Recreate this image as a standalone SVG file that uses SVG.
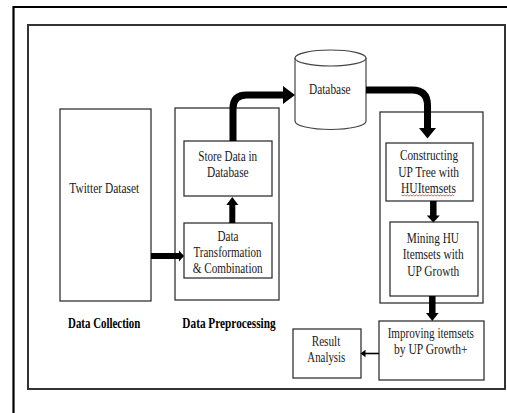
<svg xmlns="http://www.w3.org/2000/svg" width="507" height="413" viewBox="0 0 507 413">
  <style>
    .box { fill: #ffffff; stroke: #333333; stroke-width: 1.3; }
    .t { font-family: "Liberation Serif", "Times New Roman", serif; font-size: 14.5px; fill: #1a1a1a; text-anchor: middle; }
    .b { font-weight: bold; fill: #000000; }
    .shaft { fill: none; stroke: #000000; stroke-linecap: butt; stroke-linejoin: round; }
    .head { fill: #000000; }
  </style>

  <rect width="507" height="413" fill="#ffffff"/>

  <!-- outer page frame (open on the right and bottom) -->
  <path d="M13.5,413 V7 H507" fill="none" stroke="#000000" stroke-width="2.2"/>

  <!-- inner diagram frame -->
  <rect x="28" y="25" width="477" height="364" fill="#ffffff" stroke="#333333" stroke-width="2"/>

  <!-- stage containers -->
  <g id="data-collection">
    <rect class="box" x="60" y="109" width="91" height="192"/>
    <text class="t" x="104.2" y="193" textLength="70" lengthAdjust="spacingAndGlyphs">Twitter Dataset</text>
    <text class="t b" x="104.2" y="328" textLength="72.3" lengthAdjust="spacingAndGlyphs">Data Collection</text>
  </g>

  <g id="data-preprocessing">
    <rect class="box" x="175" y="108" width="104" height="192"/>
    <text class="t b" x="229" y="328" textLength="93.3" lengthAdjust="spacingAndGlyphs">Data Preprocessing</text>
  </g>

  <g id="store-data">
    <rect class="box" x="184" y="141" width="88" height="55"/>
    <text class="t" x="227.7" y="160.5" textLength="59" lengthAdjust="spacingAndGlyphs">Store Data in</text>
    <text class="t" x="227.8" y="177" textLength="41.7" lengthAdjust="spacingAndGlyphs">Database</text>
  </g>

  <g id="data-transformation">
    <rect class="box" x="184" y="223" width="88" height="55"/>
    <text class="t" x="228" y="240.5" textLength="21" lengthAdjust="spacingAndGlyphs">Data</text>
    <text class="t" x="227.5" y="257" textLength="68" lengthAdjust="spacingAndGlyphs">Transformation</text>
    <text class="t" x="227.7" y="272.5" textLength="70" lengthAdjust="spacingAndGlyphs">&amp; Combination</text>
  </g>

  <g id="database">
    <path d="M295,58 V121 A35.5,8.5 0 0 0 366,121 V58" fill="#ffffff" stroke="#444444" stroke-width="1.2"/>
    <ellipse cx="330.5" cy="58" rx="35.5" ry="8" fill="#ffffff" stroke="#444444" stroke-width="1.2"/>
    <text class="t" x="329.8" y="94" textLength="41.7" lengthAdjust="spacingAndGlyphs">Database</text>
  </g>

  <g id="mining-stage">
    <rect class="box" x="380" y="112" width="103" height="191"/>
  </g>

  <g id="constructing-up-tree">
    <rect class="box" x="386" y="143" width="87" height="58"/>
    <text class="t" x="429" y="160" textLength="58" lengthAdjust="spacingAndGlyphs">Constructing</text>
    <text class="t" x="428.7" y="176.5" textLength="60.7" lengthAdjust="spacingAndGlyphs">UP Tree with</text>
    <text class="t" x="428.5" y="192.5" textLength="55" lengthAdjust="spacingAndGlyphs">HUItemsets</text>
    <!-- spell-check squiggle under the term -->
    <path d="M401.5,195 l1.5,1 l1.5,-1 l1.5,1 l1.5,-1 l1.5,1 l1.5,-1 l1.5,1 l1.5,-1 l1.5,1 l1.5,-1 l1.5,1 l1.5,-1 l1.5,1 l1.5,-1 l1.5,1 l1.5,-1 l1.5,1 l1.5,-1 l1.5,1 l1.5,-1 l1.5,1 l1.5,-1 l1.5,1 l1.5,-1 l1.5,1 l1.5,-1 l1.5,1 l1.5,-1 l1.5,1 l1.5,-1 l1.5,1 l1.5,-1 l1.5,1 l1.5,-1 l1.5,1" fill="none" stroke="#e02020" stroke-width="0.7"/>
  </g>

  <g id="mining-hu-itemsets">
    <rect class="box" x="390" y="222" width="88" height="74"/>
    <text class="t" x="432.8" y="242.5" textLength="52.3" lengthAdjust="spacingAndGlyphs">Mining HU</text>
    <text class="t" x="433.2" y="259" textLength="61" lengthAdjust="spacingAndGlyphs">Itemsets with</text>
    <text class="t" x="433.3" y="275.5" textLength="52" lengthAdjust="spacingAndGlyphs">UP Growth</text>
  </g>

  <g id="improving-itemsets">
    <rect class="box" x="379" y="321" width="105" height="59"/>
    <text class="t" x="430.8" y="337.5" textLength="86.3" lengthAdjust="spacingAndGlyphs">Improving itemsets</text>
    <text class="t" x="430.8" y="353.5" textLength="73.7" lengthAdjust="spacingAndGlyphs">by UP Growth+</text>
  </g>

  <g id="result-analysis">
    <rect class="box" x="293" y="329" width="68" height="49"/>
    <text class="t" x="326" y="346" textLength="28.7" lengthAdjust="spacingAndGlyphs">Result</text>
    <text class="t" x="326.3" y="361.5" textLength="38" lengthAdjust="spacingAndGlyphs">Analysis</text>
  </g>

  <!-- connectors -->
  <g id="connectors">
    <!-- Twitter Dataset -> Data Transformation -->
    <path class="shaft" d="M151,256 H179.5" stroke-width="6"/>
    <polygon class="head" points="179,250.5 184,256 179,261.5"/>

    <!-- Data Transformation -> Store Data -->
    <path class="shaft" d="M232.3,223 V204.5" stroke-width="6"/>
    <polygon class="head" points="226.3,205 232.3,197 238.3,205"/>

    <!-- Store Data -> Database -->
    <path class="shaft" d="M233,141 V108.5 Q233,95 246.5,95 H284" stroke-width="7"/>
    <polygon class="head" points="283,86 295,95 283,104"/>

    <!-- Database -> Constructing UP Tree -->
    <path class="shaft" d="M366,90 H412 Q427.5,90 427.5,105.5 V128.5" stroke-width="7"/>
    <polygon class="head" points="419,128 427.5,138.5 436,128"/>

    <!-- Constructing UP Tree -> Mining HU Itemsets -->
    <path class="shaft" d="M433.3,201 V216" stroke-width="6.5"/>
    <polygon class="head" points="426.8,215.5 433.3,222.5 439.8,215.5"/>

    <!-- Mining HU Itemsets -> Improving itemsets -->
    <path class="shaft" d="M432.3,296 V313.5" stroke-width="6.5"/>
    <polygon class="head" points="426,313 432.3,321 438.6,313"/>

    <!-- Improving itemsets -> Result Analysis -->
    <path class="shaft" d="M379,353.5 H364.5" stroke-width="1.6"/>
    <polygon class="head" points="365.5,349.8 360.5,353.5 365.5,357.2"/>
  </g>
</svg>
